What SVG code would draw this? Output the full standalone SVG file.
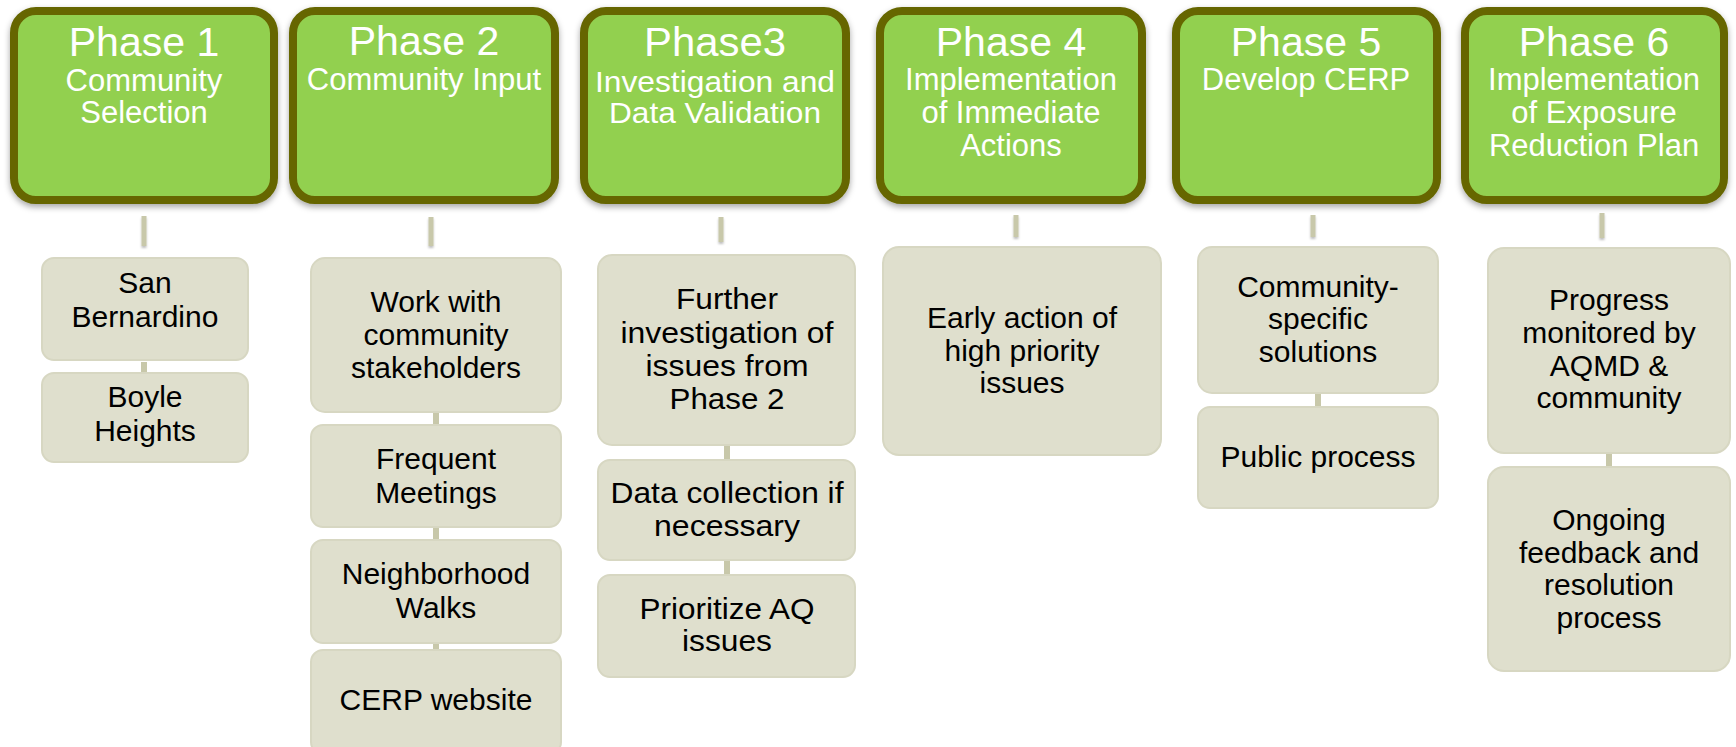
<svg xmlns="http://www.w3.org/2000/svg" width="1736" height="747" viewBox="0 0 1736 747">
<defs>
<filter id="sh" x="-10%" y="-10%" width="120%" height="125%">
<feDropShadow dx="0" dy="3" stdDeviation="3" flood-color="#000" flood-opacity="0.35"/>
</filter>
<filter id="csh" x="-200%" y="-30%" width="500%" height="170%">
<feDropShadow dx="0" dy="2" stdDeviation="1.2" flood-color="#000" flood-opacity="0.25"/>
</filter>
<style>
.hdr{fill:#92d050;stroke:#666600;stroke-width:8;filter:url(#sh)}
.sub{fill:#dfdfcd;stroke:#d7d7c2;stroke-width:2}
.ht{font-family:"Liberation Sans",Arial,sans-serif;fill:#ffffff;text-anchor:middle}
.h1{font-size:41px}
.h2{font-size:31px}
.h3{font-size:29px}
.st{font-family:"Liberation Sans",Arial,sans-serif;fill:#000;text-anchor:middle;font-size:30px}
.cn{fill:#c8c8aa;filter:url(#csh)}
.cs{fill:#c8c8aa}
</style>
</defs>
<rect width="1736" height="747" fill="#ffffff"/>

<g id="connectors">
<rect class="cn" x="141.5" y="216" width="5" height="30"/>
<rect class="cn" x="428.5" y="217" width="5" height="29"/>
<rect class="cn" x="718.5" y="217" width="5" height="25"/>
<rect class="cn" x="1013.5" y="215" width="5" height="22"/>
<rect class="cn" x="1310.5" y="215" width="5" height="22"/>
<rect class="cn" x="1599.5" y="213" width="5" height="25"/>
<rect class="cs" x="141" y="362" width="6" height="10"/>
<rect class="cs" x="433" y="413" width="6" height="11"/>
<rect class="cs" x="433" y="528" width="6" height="11"/>
<rect class="cs" x="433" y="644" width="6" height="6"/>
<rect class="cs" x="724" y="446" width="6" height="13"/>
<rect class="cs" x="724" y="561" width="6" height="13"/>
<rect class="cs" x="1315" y="394" width="6" height="12"/>
<rect class="cs" x="1606" y="454" width="6" height="12"/>
</g>

<g id="phase1">
<rect class="hdr" x="14" y="11" width="260" height="189" rx="22"/>
<text class="ht h1" x="144" y="56">Phase 1</text>
<text class="ht h2" x="144" y="91">Community</text>
<text class="ht h2" x="144" y="123">Selection</text>
</g>
<g id="san-bernardino">
<rect class="sub" x="42" y="258" width="206" height="102" rx="12"/>
<text class="st" x="145" y="293">San</text>
<text class="st" x="145" y="327">Bernardino</text>
</g>
<g id="boyle-heights">
<rect class="sub" x="42" y="373" width="206" height="89" rx="12"/>
<text class="st" x="145" y="407">Boyle</text>
<text class="st" x="145" y="441">Heights</text>
</g>

<g id="phase2">
<rect class="hdr" x="293" y="11" width="262" height="189" rx="22"/>
<text class="ht h1" x="424" y="55">Phase 2</text>
<text class="ht h2" x="424" y="90">Community Input</text>
</g>
<g id="work-with">
<rect class="sub" x="311" y="258" width="250" height="154" rx="14"/>
<text class="st" x="436" y="312">Work with</text>
<text class="st" x="436" y="345">community</text>
<text class="st" x="436" y="378">stakeholders</text>
</g>
<g id="frequent-meetings">
<rect class="sub" x="311" y="425" width="250" height="102" rx="12"/>
<text class="st" x="436" y="469">Frequent</text>
<text class="st" x="436" y="503">Meetings</text>
</g>
<g id="neighborhood-walks">
<rect class="sub" x="311" y="540" width="250" height="103" rx="12"/>
<text class="st" x="436" y="584">Neighborhood</text>
<text class="st" x="436" y="618">Walks</text>
</g>
<g id="cerp-website">
<rect class="sub" x="311" y="650" width="250" height="104" rx="12"/>
<text class="st" x="436" y="710">CERP website</text>
</g>

<g id="phase3">
<rect class="hdr" x="584" y="11" width="262" height="189" rx="22"/>
<text class="ht h1" x="715" y="56" textLength="142" lengthAdjust="spacingAndGlyphs">Phase3</text>
<text class="ht h3" x="715" y="92" textLength="240" lengthAdjust="spacingAndGlyphs">Investigation and</text>
<text class="ht h3" x="715" y="123" textLength="212" lengthAdjust="spacingAndGlyphs">Data Validation</text>
</g>
<g id="further-investigation">
<rect class="sub" x="598" y="255" width="257" height="190" rx="14"/>
<text class="st" x="727" y="309" textLength="102" lengthAdjust="spacingAndGlyphs">Further</text>
<text class="st" x="727" y="343" textLength="213" lengthAdjust="spacingAndGlyphs">investigation of</text>
<text class="st" x="727" y="376" textLength="163" lengthAdjust="spacingAndGlyphs">issues from</text>
<text class="st" x="727" y="409" textLength="115" lengthAdjust="spacingAndGlyphs">Phase 2</text>
</g>
<g id="data-collection">
<rect class="sub" x="598" y="460" width="257" height="100" rx="12"/>
<text class="st" x="727" y="503" textLength="233" lengthAdjust="spacingAndGlyphs">Data collection if</text>
<text class="st" x="727" y="536" textLength="146" lengthAdjust="spacingAndGlyphs">necessary</text>
</g>
<g id="prioritize">
<rect class="sub" x="598" y="575" width="257" height="102" rx="12"/>
<text class="st" x="727" y="619" textLength="175" lengthAdjust="spacingAndGlyphs">Prioritize AQ</text>
<text class="st" x="727" y="651" textLength="90" lengthAdjust="spacingAndGlyphs">issues</text>
</g>

<g id="phase4">
<rect class="hdr" x="880" y="11" width="262" height="189" rx="22"/>
<text class="ht h1" x="1011" y="56">Phase 4</text>
<text class="ht h2" x="1011" y="90">Implementation</text>
<text class="ht h2" x="1011" y="123">of Immediate</text>
<text class="ht h2" x="1011" y="156">Actions</text>
</g>
<g id="early-action">
<rect class="sub" x="883" y="247" width="278" height="208" rx="16"/>
<text class="st" x="1022" y="328">Early action of</text>
<text class="st" x="1022" y="361">high priority</text>
<text class="st" x="1022" y="393">issues</text>
</g>

<g id="phase5">
<rect class="hdr" x="1176" y="11" width="261" height="189" rx="22"/>
<text class="ht h1" x="1306" y="56">Phase 5</text>
<text class="ht h2" x="1306" y="90">Develop CERP</text>
</g>
<g id="community-specific">
<rect class="sub" x="1198" y="247" width="240" height="146" rx="14"/>
<text class="st" x="1318" y="297">Community-</text>
<text class="st" x="1318" y="329">specific</text>
<text class="st" x="1318" y="362">solutions</text>
</g>
<g id="public-process">
<rect class="sub" x="1198" y="407" width="240" height="101" rx="12"/>
<text class="st" x="1318" y="467">Public process</text>
</g>

<g id="phase6">
<rect class="hdr" x="1465" y="11" width="259" height="189" rx="22"/>
<text class="ht h1" x="1594" y="56">Phase 6</text>
<text class="ht h2" x="1594" y="90">Implementation</text>
<text class="ht h2" x="1594" y="123">of Exposure</text>
<text class="ht h2" x="1594" y="156">Reduction Plan</text>
</g>
<g id="progress-monitored">
<rect class="sub" x="1488" y="248" width="242" height="205" rx="16"/>
<text class="st" x="1609" y="310">Progress</text>
<text class="st" x="1609" y="343">monitored by</text>
<text class="st" x="1609" y="376">AQMD &amp;</text>
<text class="st" x="1609" y="408">community</text>
</g>
<g id="ongoing-feedback">
<rect class="sub" x="1488" y="467" width="242" height="204" rx="16"/>
<text class="st" x="1609" y="530">Ongoing</text>
<text class="st" x="1609" y="563">feedback and</text>
<text class="st" x="1609" y="595">resolution</text>
<text class="st" x="1609" y="628">process</text>
</g>
</svg>
